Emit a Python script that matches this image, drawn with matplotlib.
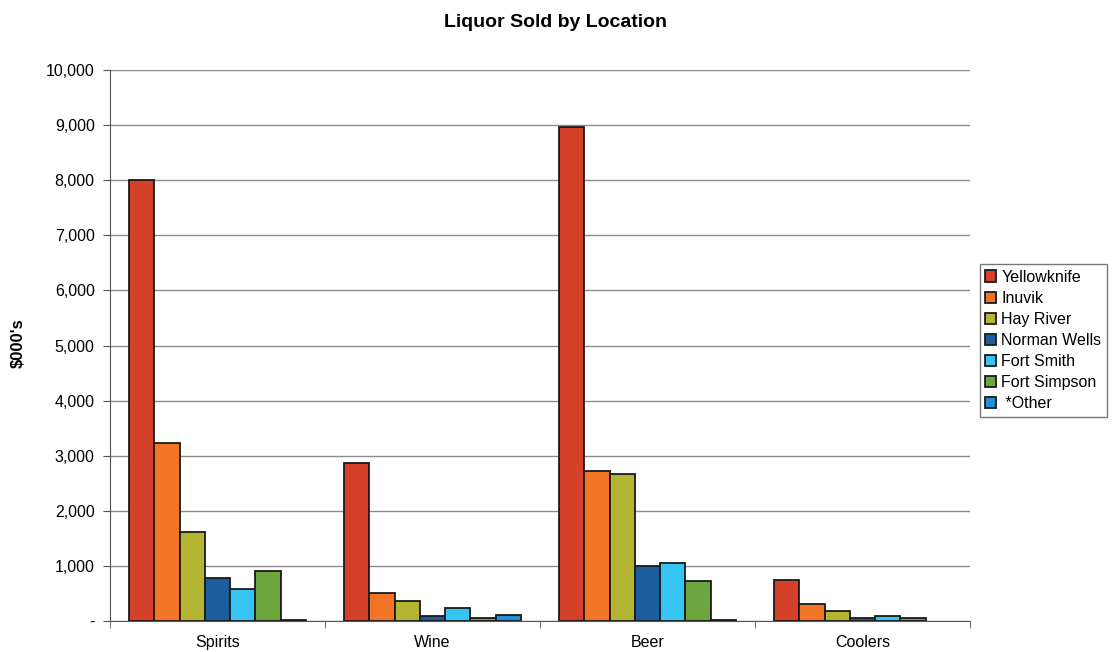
import matplotlib
matplotlib.use("Agg")
import matplotlib.pyplot as plt
import numpy as np
from matplotlib.ticker import FuncFormatter

plt.rcParams['font.family'] = ['Liberation Sans', 'DejaVu Sans']

categories = ["Spirits", "Wine", "Beer", "Coolers"]
locations = ["Yellowknife", "Inuvik", "Hay River", "Norman Wells",
             "Fort Smith", "Fort Simpson", " *Other"]

yellowknife = [8000, 2860, 8970, 750]
inuvik = [3240, 500, 2720, 310]
hay_river = [1620, 360, 2670, 185]
norman_wells = [790, 100, 990, 60]
fort_smith = [575, 240, 1045, 90]
fort_simpson = [910, 60, 730, 55]
other = [10, 115, 10, np.nan]  # no coolers reported

series = [yellowknife, inuvik, hay_river, norman_wells,
          fort_smith, fort_simpson, other]
colors = ["#D4402A", "#F27426", "#B4B532", "#1A5E9E",
          "#38C4F2", "#6DA53F", "#1F8FD6"]

fig = plt.figure(figsize=(11.12, 6.52), dpi=100)
ax = fig.add_axes([0.0989, 0.0475, 0.7734, 0.8451])

x = np.arange(len(categories))
n = len(series)
width = 1 / 8.5
for i, (vals, col, name) in enumerate(zip(series, colors, locations)):
    offs = (i - (n - 1) / 2) * width
    ax.bar(x + offs, vals, width=width, color=col, edgecolor="#1a1a1a",
           linewidth=1.3, label=name, zorder=3)

ax.set_xlim(-0.5, len(categories) - 0.5)
ax.set_ylim(0, 10000)
ax.set_yticks(np.arange(0, 10001, 1000))
ax.yaxis.set_major_formatter(FuncFormatter(
    lambda v, p: "-" if v == 0 else f"{int(v):,}"))
ax.set_xticks(x)
ax.set_xticklabels(categories)
ax.set_xticks(np.arange(-0.5, len(categories)), minor=True)
ax.tick_params(axis="x", which="major", length=0, labelsize=11.5, pad=10)
ax.tick_params(axis="x", which="minor", length=5, direction="out", color="#555555")
ax.tick_params(axis="y", length=5, direction="out", labelsize=11.5, pad=6,
               color="#555555")

ax.grid(axis="y", color="#8c8c8c", linewidth=1.0, zorder=0)
for side in ["top", "right"]:
    ax.spines[side].set_visible(False)
ax.spines["left"].set_color("#555555")
ax.spines["bottom"].set_color("#555555")

fig.text(18 / 1112, 1 - 343 / 652, "$000's", rotation=90, fontsize=12,
         fontweight="bold", ha="center", va="center")
fig.suptitle("Liquor Sold by Location", fontsize=14, fontweight="bold",
             x=0.5, y=0.978)

leg = fig.legend(loc="upper left", bbox_to_anchor=(0.881, 0.595),
                 fontsize=11.5, frameon=True, fancybox=False,
                 handlelength=0.7, handleheight=0.7, handletextpad=0.3,
                 labelspacing=0.38, borderpad=0.35, borderaxespad=0)
leg.get_frame().set_edgecolor("#555555")
leg.get_frame().set_linewidth(1.0)

fig.savefig("out.png", dpi=100)
